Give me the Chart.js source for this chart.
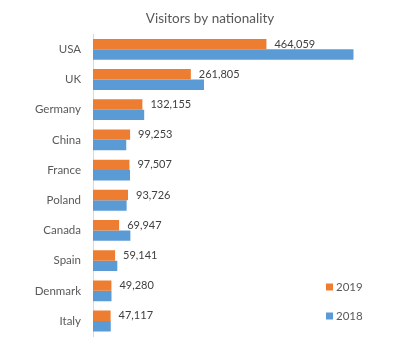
<!DOCTYPE html>
<html>
<head>
<meta charset="utf-8">
<script src="https://cdn.jsdelivr.net/npm/chart.js@4.4.1/dist/chart.umd.min.js"></script>
<style>
html,body{margin:0;padding:0;background:#fff;}
#wrap{width:420px;height:355px;position:relative;}
</style>
</head>
<body>
<div id="wrap"><canvas id="c"></canvas></div>
<script>
const categories = ["USA","UK","Germany","China","France","Poland","Canada","Spain","Denmark","Italy"];
const visitors2019 = [464059,261805,132155,99253,97507,93726,69947,59141,49280,47117];
const visitors2018 = [697000,297000,137000,89000,99000,90000,100000,65000,49500,47500];
const seriesNames = ["2019","2018"];

const FONT = "Lato, 'Liberation Sans', sans-serif";
const TXT = "#595959";
const ORANGE = "#ED7D31";
const BLUE = "#5B9BD5";

const labelPlugin = {
  id: 'barLabels',
  afterDatasetsDraw(chart) {
    const ctx = chart.ctx;
    const meta = chart.getDatasetMeta(0);
    ctx.save();
    ctx.font = "11px " + FONT;
    ctx.fillStyle = "#404040";
    ctx.textAlign = "left";
    ctx.textBaseline = "middle";
    meta.data.forEach((el, i) => {
      const v = chart.data.datasets[0].data[i];
      ctx.fillText(v.toLocaleString('en-US'), el.x + 8, el.y);
    });
    ctx.restore();
  }
};

const legendPlugin = {
  id: 'customLegend',
  afterDraw(chart) {
    const ctx = chart.ctx;
    const x = chart.width - 94;
    const ys = [287, 316];
    ctx.save();
    ctx.font = "11.5px " + FONT;
    ctx.textAlign = "left";
    ctx.textBaseline = "middle";
    chart.data.datasets.forEach((ds, i) => {
      ctx.fillStyle = ds.backgroundColor;
      ctx.fillRect(x, ys[i] - 3.5, 7, 7);
      ctx.fillStyle = TXT;
      ctx.fillText(ds.label, x + 10, ys[i]);
    });
    ctx.restore();
  }
};

new Chart(document.getElementById('c'), {
  type: 'bar',
  data: {
    labels: categories,
    datasets: [
      { label: seriesNames[0], data: visitors2019, backgroundColor: ORANGE, categoryPercentage: 0.69, barPercentage: 1 },
      { label: seriesNames[1], data: visitors2018, backgroundColor: BLUE, categoryPercentage: 0.69, barPercentage: 1 }
    ]
  },
  options: {
    indexAxis: 'y',
    responsive: true,
    maintainAspectRatio: false,
    animation: false,
    layout: { padding: { left: 0, right: 0, top: 0, bottom: 17 } },
    plugins: {
      legend: { display: false },
      tooltip: { enabled: false },
      title: {
        display: true,
        text: 'Visitors by nationality',
        color: TXT,
        font: { family: FONT, size: 13.5, weight: 'normal' },
        padding: { top: 11, bottom: 7 }
      }
    },
    scales: {
      x: { display: false, min: 0, max: 875000 },
      y: {
        grid: { display: false, drawTicks: false },
        border: { display: true, color: '#d9d9d9', width: 1 },
        ticks: { color: TXT, font: { family: FONT, size: 11.5 }, padding: 12 },
        afterFit(scale) { scale.width = 93; }
      }
    }
  },
  plugins: [labelPlugin, legendPlugin]
});
</script>
</body>
</html>
